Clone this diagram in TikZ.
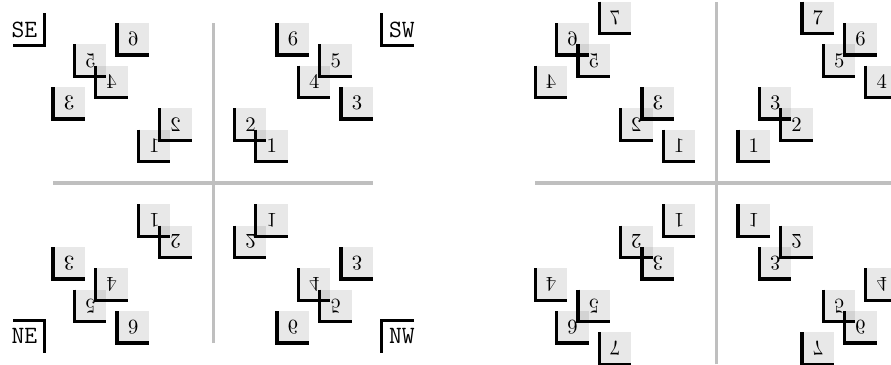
\documentclass[tikz,border=0pt]{standalone}
\tikzset{
    tile/.style={fill=black,fill opacity=0.09,minimum size=15.46pt,
        inner sep=0pt,outer sep=0pt},
    digit/.style={transform shape,inner sep=0pt},
    corner/.style={ultra thick},
    axis/.style={line width=1.5pt,black!25},
    tag/.style={font=\large\ttfamily,inner sep=0pt}
}
\newcommand\tiles[1]{%
    \foreach \i/\x/\y in {#1} {
        \node[tile] (t\i) at (\x+0.75,\y+0.75) {};
        \draw[corner] (t\i.north west) |- (t\i.south east);
        \node[digit] at (t\i) {\i};
    }%
}
\begin{document}
\begin{tikzpicture}[x=10.305pt,y=10.305pt]
    \useasboundingbox (0,0) rectangle (41.77,17.11);
    \begin{scope}[shift={(9.99,8.53)}]
        \draw[axis] (-7.5,0) -- (7.5,0);
        \draw[axis] (0,-7.5) -- (0,7.5);
        \foreach \sx/\sy/\tagtext in {1/1/SW,-1/1/SE,-1/-1/NE,1/-1/NW} {
            \begin{scope}[xscale=\sx,yscale=\sy]
                \tiles{1/2/1,2/1/2,3/6/3,4/4/4,5/5/5,6/3/6}
                \draw[corner] (7.9,7.95) |- (9.4,6.45);
                \node[tag] at (8.85,7.17) {\tagtext};
            \end{scope}
        }
    \end{scope}
    \begin{scope}[shift={(33.59,8.53)}]
        \draw[axis] (-8.5,0) -- (8.5,0);
        \draw[axis] (0,-8.5) -- (0,8.5);
        \foreach \sx/\sy in {1/1,-1/1,-1/-1,1/-1} {
            \begin{scope}[xscale=\sx,yscale=\sy]
                \tiles{1/1/1,2/3/2,3/2/3,4/7/4,5/5/5,6/6/6,7/4/7}
            \end{scope}
        }
    \end{scope}
\end{tikzpicture}
\end{document}
